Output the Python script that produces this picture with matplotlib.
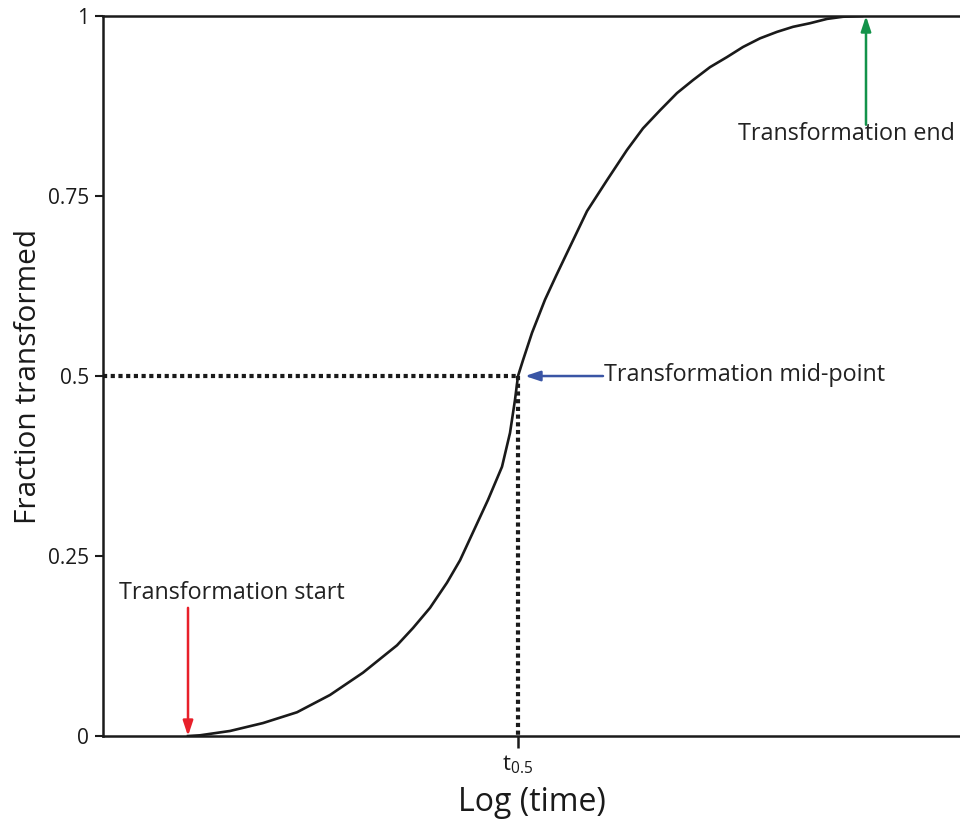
import numpy as np
import matplotlib.pyplot as plt

plt.rcParams['font.family'] = ['Open Sans', 'DejaVu Sans']
plt.rcParams['mathtext.fontset'] = 'custom'
plt.rcParams['mathtext.rm'] = 'Open Sans'

# Curve (x in arbitrary log-time units)
log_time = [0.85, 0.97, 1.27, 1.60, 1.94, 2.27, 2.60, 2.94, 3.10, 3.27,
            3.44, 3.57, 3.71, 3.85, 3.99, 4.07, 4.12, 4.15, 4.20, 4.29,
            4.42, 4.53, 4.64, 4.74, 4.84, 5.04, 5.24, 5.40, 5.57, 5.74,
            5.90, 6.07, 6.24, 6.40, 6.57, 6.74, 6.90, 7.07, 7.24, 7.40, 7.59]
fraction = [0.0, 0.001, 0.007, 0.018, 0.033, 0.057, 0.088, 0.126, 0.150, 0.178,
            0.213, 0.244, 0.286, 0.328, 0.374, 0.421, 0.467, 0.5, 0.522, 0.560,
            0.606, 0.639, 0.671, 0.700, 0.729, 0.772, 0.814, 0.844, 0.869, 0.893,
            0.911, 0.929, 0.943, 0.957, 0.969, 0.978, 0.985, 0.990, 0.996, 0.999, 1.0]

t_start = 0.85
t_mid = 4.15
t_end = 7.63

y_ticks = [0, 0.25, 0.5, 0.75, 1]
y_tick_labels = ['0', '0.25', '0.5', '0.75', '1']

fig = plt.figure(figsize=(9.6, 8.22), dpi=100)
ax = fig.add_axes([0.1073, 0.1046, 0.8927, 0.8759])

ax.plot(log_time, fraction, color='#1a1a1a', lw=1.9, zorder=3,
        solid_joinstyle='round')

# dotted guide lines to the mid-point
ax.plot([0, t_mid], [0.5, 0.5], color='#1a1a1a', lw=3, dashes=(1, 0.85),
        dash_capstyle='butt', zorder=2)
ax.plot([t_mid, t_mid], [0.5, 0], color='#1a1a1a', lw=3, dashes=(1, 0.85),
        dash_capstyle='butt', zorder=2)

# arrows
arrow_style = '-|>,head_length=0.9,head_width=0.3'
ax.annotate('', xy=(t_start, 0.0), xytext=(t_start, 0.178),
            arrowprops=dict(arrowstyle=arrow_style, color='#e8202a', lw=1.8,
                            shrinkA=0, shrinkB=0))
ax.annotate('', xy=(t_end, 1.0), xytext=(t_end, 0.849),
            arrowprops=dict(arrowstyle=arrow_style, color='#13934a', lw=1.8,
                            shrinkA=0, shrinkB=0))
ax.annotate('', xy=(4.22, 0.5), xytext=(5.0, 0.5),
            arrowprops=dict(arrowstyle=arrow_style, color='#3a55a5', lw=1.8,
                            shrinkA=0, shrinkB=0))

ax.text(1.29, 0.198, 'Transformation start', ha='center', va='center',
        fontsize=16.8, color='#222222')
ax.text(8.52, 0.836, 'Transformation end', ha='right', va='center',
        fontsize=16.8, color='#222222')
ax.text(5.01, 0.501, 'Transformation mid-point', ha='left', va='center',
        fontsize=16.8, color='#222222')

ax.set_xlim(0, 8.57)
ax.set_ylim(0, 1)
ax.set_yticks(y_ticks)
ax.set_yticklabels(y_tick_labels)
ax.set_xticks([t_mid])
ax.set_xticklabels([r'$\mathregular{t_{0.5}}$'])

for s in ['left', 'bottom', 'top']:
    ax.spines[s].set_linewidth(1.8)
    ax.spines[s].set_color('#1a1a1a')
ax.spines['right'].set_visible(False)
ax.tick_params(axis='y', direction='out', length=6, width=1.5, labelsize=15,
               colors='#1a1a1a', pad=4)
ax.tick_params(axis='x', direction='out', length=8.5, width=1.8, labelsize=16,
               colors='#1a1a1a', pad=4)

ax.set_ylabel('Fraction transformed', fontsize=21.5, color='#1a1a1a', labelpad=3.5)
ax.set_xlabel('Log (time)', fontsize=23, color='#1a1a1a', labelpad=7)

fig.savefig('out.png', dpi=100)
